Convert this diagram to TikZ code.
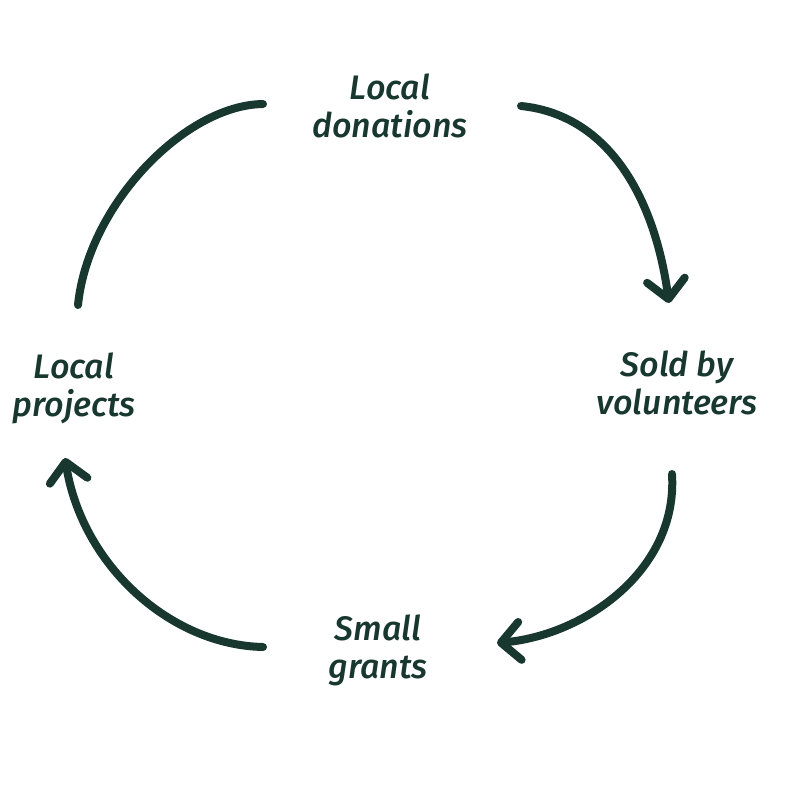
\documentclass[tikz,border=0pt]{standalone}
\usepackage{fontspec}
\setmainfont{Fira Sans}[ItalicFont={Fira Sans Medium Italic}]
\usetikzlibrary{arrows.meta}
\definecolor{ink}{HTML}{17372F}
\begin{document}
\begin{tikzpicture}[x=1pt,y=-1pt,
  label/.style={text=ink,font=\fontsize{34}{38}\selectfont\itshape,align=center,inner sep=0pt},
  flow/.style={draw=ink,line width=8pt,line cap=round},
  tip/.style={-{Straight Barb[length=19pt,width=38pt,round]}}]
\useasboundingbox (0,0) rectangle (800,800);
% stages of the cycle
\node[label] (don) at (390,106) {Local\\donations};
\node[label] (vol) at (677,383) {Sold by\\volunteers};
\node[label] (gra) at (378,650) {Small\\grants};
\node[label] (pro) at (74,388) {Local\\projects};
% arrow end points
\coordinate (a1) at (521,106);
\coordinate (b1) at (669,303);
\coordinate (a2) at (672,474);
\coordinate (b2) at (497,643);
\coordinate (a3) at (263,647);
\coordinate (b3) at (65,458);
\coordinate (a4) at (78,305);
\coordinate (b4) at (263,104);
% connectors
\draw[flow,tip] (a1) .. controls (610,115) and (655,200) .. (b1);
\draw[flow,tip] (a2) .. controls (678,570) and (585,635) .. (b2);
\draw[flow,tip] (a3) .. controls (170,645) and (82,565) .. (b3);
\draw[flow] (a4) .. controls (88,205) and (185,105) .. (b4);
\end{tikzpicture}
\end{document}
